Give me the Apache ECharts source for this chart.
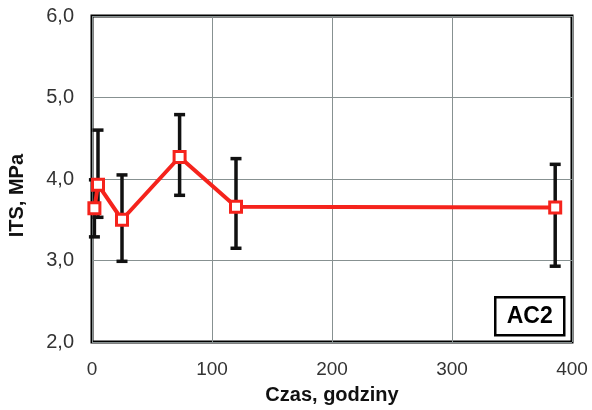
<!DOCTYPE html>
<html>
<head>
<meta charset="utf-8">
<script src="https://cdn.jsdelivr.net/npm/echarts@6/dist/echarts.min.js"></script>
<style>
  html, body { margin: 0; padding: 0; background: #fff; }
  #chart { width: 592px; height: 410px; }
</style>
</head>
<body>
<div id="chart"></div>
<script>
// czas badania, godziny
var hours = [2, 5, 25, 73, 120, 386]
// ITS, MPa (średnia)
var itsMean = [3.64, 3.93, 3.50, 4.27, 3.66, 3.65]
// zakres słupków błędu
var itsLow = [3.29, 3.53, 2.99, 3.80, 3.15, 2.93]
var itsHigh = [3.99, 4.60, 4.05, 4.79, 4.25, 4.18]
var xTicks = [0, 100, 200, 300, 400]
var yTicks = [2.0, 3.0, 4.0, 5.0, 6.0]

var lineData = hours.map(function (h, i) { return [h, itsMean[i]] })
var errData = hours.map(function (h, i) { return [h, itsLow[i], itsHigh[i]] })

var chart = echarts.init(document.getElementById('chart'))
chart.setOption({
  backgroundColor: '#fff',
  animation: false,
  textStyle: { fontFamily: 'Liberation Sans, Arial, sans-serif' },
  grid: {
    left: 92, top: 16, right: 20, bottom: 68,
    show: true, borderColor: '#000', borderWidth: 3
  },
  xAxis: {
    type: 'value',
    min: xTicks[0], max: xTicks[xTicks.length - 1], interval: 100,
    name: 'Czas, godziny',
    nameLocation: 'middle',
    nameGap: 43,
    nameTextStyle: { color: '#111', fontSize: 20, fontWeight: 'bold' },
    axisLine: { show: false },
    axisTick: { show: false },
    axisLabel: { color: '#333', fontSize: 19, margin: 18 },
    splitLine: { lineStyle: { color: '#879191', width: 1 } }
  },
  yAxis: {
    type: 'value',
    min: yTicks[0], max: yTicks[yTicks.length - 1], interval: 1,
    axisLine: { show: false },
    axisTick: { show: false },
    axisLabel: {
      color: '#333', fontSize: 20, margin: 18,
      formatter: function (v) { return v.toFixed(1).replace('.', ',') }
    },
    splitLine: { lineStyle: { color: '#879191', width: 1 } }
  },
  graphic: [
    {
      type: 'text', left: 7, top: 154, rotation: Math.PI / 2,
      style: { text: 'ITS, MPa', fill: '#111', font: 'bold 20px Liberation Sans, Arial, sans-serif' }
    },
    {
      type: 'group', left: 494, top: 296,
      children: [
        { type: 'rect', shape: { x: 0, y: 0, width: 69, height: 38 },
          style: { fill: '#fff', stroke: '#000', lineWidth: 2.5 } },
        { type: 'text', x: 34.5, y: 19,
          style: { text: 'AC2', fill: '#000', align: 'center', verticalAlign: 'middle',
                   font: 'bold 23px Liberation Sans, Arial, sans-serif' } }
      ]
    }
  ],
  series: [
    {
      // słupki błędu
      type: 'custom',
      data: errData,
      z: 2,
      renderItem: function (params, api) {
        var x = api.value(0)
        var lo = api.coord([x, api.value(1)])
        var hi = api.coord([x, api.value(2)])
        var cap = 5.5
        var style = { stroke: '#111', lineWidth: 3.5 }
        return {
          type: 'group',
          children: [
            { type: 'line', shape: { x1: lo[0], y1: lo[1], x2: hi[0], y2: hi[1] }, style: style },
            { type: 'line', shape: { x1: lo[0] - cap, y1: lo[1], x2: lo[0] + cap, y2: lo[1] }, style: style },
            { type: 'line', shape: { x1: hi[0] - cap, y1: hi[1], x2: hi[0] + cap, y2: hi[1] }, style: style }
          ]
        }
      }
    },
    {
      type: 'line',
      data: lineData,
      z: 3,
      symbol: 'rect',
      symbolSize: 11,
      lineStyle: { color: '#f5231c', width: 4 },
      itemStyle: { color: '#fff', borderColor: '#f5231c', borderWidth: 3 }
    }
  ]
})
</script>
</body>
</html>
